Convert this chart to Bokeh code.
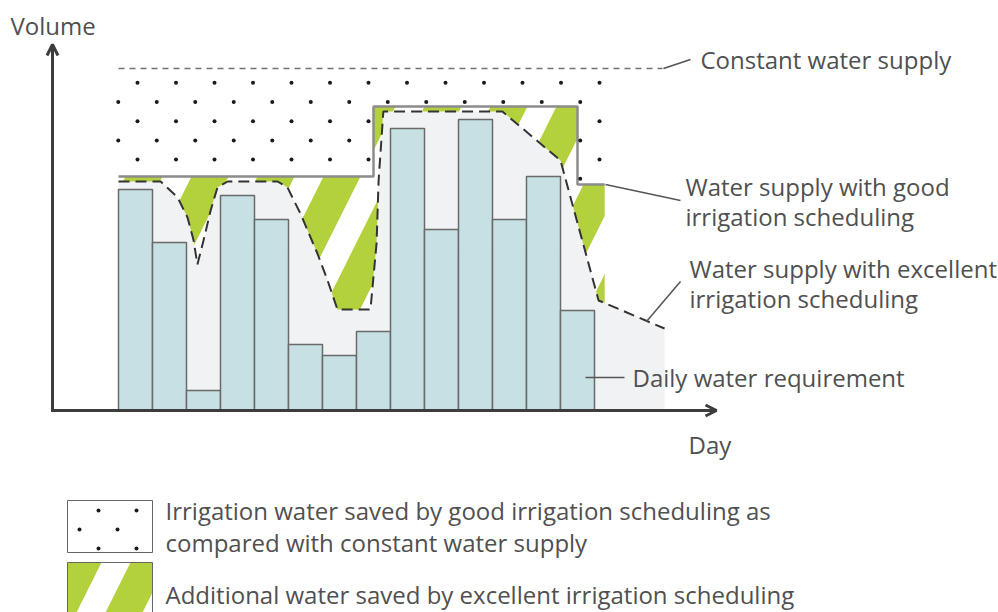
import numpy as np
from bokeh.plotting import figure
from bokeh.models import Range1d, Arrow, OpenHead, Label
from bokeh.embed import file_html
from bokeh.resources import INLINE

# ---------------- data (schematic) ----------------
days = list(range(1, 15))
requirement = [22.1, 16.8, 2.0, 21.5, 19.1, 6.6, 5.5, 7.9, 28.2, 18.1, 29.1, 19.1, 23.4, 10.0]

constant_x = [0.5, 16.5]
constant_supply = 34.2

good_x = [0.5, 8.0, 8.0, 14.0, 14.0, 14.8]
good_y = [23.4, 23.4, 30.4, 30.4, 22.6, 22.6]

excellent_x = [0.50, 1.74, 2.24, 2.53, 2.71, 2.82, 3.00, 3.21, 3.41, 3.71, 5.18, 5.47, 5.85,
               6.35, 6.65, 6.94, 7.91, 8.09, 8.15, 8.29, 11.79, 13.50, 14.62, 16.56]
excellent_y = [22.9, 22.9, 21.3, 19.3, 17.0, 14.6, 17.0, 20.0, 22.3, 22.9, 22.9, 22.3, 19.7,
               15.7, 13.0, 10.1, 10.1, 16.7, 23.0, 29.9, 29.9, 25.0, 11.0, 8.2]

labels_axis = ["Volume", "Day"]
# ---------------------------------------------------

W, H = 998, 612
OFF = 0                # page offset of the figure
X0, SX = 101.0, 34.0   # page px of day 0, px per day
Y0, SY = 410.0, 10.0   # page px of volume 0, px per unit


def px(x):
    return (x - X0) / SX


def py(y):
    return (Y0 - y) / SY


TEXT = "#505050"
AX = "#3d3d3d"
GREEN = "#b3d13d"
FONT = "Open Sans"
FS = "24px"

p = figure(width=W, height=H, output_backend="svg", toolbar_location=None,
           x_range=Range1d(px(OFF), px(OFF + W)), y_range=Range1d(py(OFF + H), py(OFF)),
           x_axis_type=None, y_axis_type=None, min_border=0,
           outline_line_color=None)
p.grid.visible = False
p.background_fill_color = "white"

HATCH = dict(hatch_pattern="/", hatch_color=GREEN, hatch_weight=33, hatch_scale=132)

# hatched region (below good supply line; lower part covered by grey area)
hx = [good_x[0]] + good_x + [good_x[-1]]
hy = [0] + good_y + [0]
p.patch(hx, hy, fill_color="white", line_color=None, **HATCH)

# grey area under excellent supply
gx = [excellent_x[0]] + excellent_x + [excellent_x[-1]]
gy = [0] + excellent_y + [0]
p.patch(gx, gy, fill_color="#f1f2f4", line_color=None)

# daily requirement bars
p.vbar(x=days, top=requirement, bottom=0, width=1.0, fill_color="#c6e0e3",
       line_color="#6a6a6a", line_width=1.5)

# supply lines
p.line(excellent_x, excellent_y, line_color="#333333", line_width=2, line_dash="11 6")
p.line(good_x, good_y, line_color="#8c8c8c", line_width=2.5)
p.line(constant_x, [constant_supply] * 2, line_color="#707070", line_width=1.5, line_dash="6 5")


# dot texture between constant supply and good supply
def good_level(x):
    lvl = good_y[0]
    for i in range(len(good_x) - 1):
        if good_y[i] == good_y[i + 1] and good_x[i] <= x <= good_x[i + 1]:
            lvl = good_y[i]
    return lvl


ddx, ddy = 38.5 / SX, 19.2 / SY
dxs, dys = [], []
for k in range(12):
    yy = constant_supply - 1.43 - ddy * k
    x = px(137) - (ddx / 2) * (k % 2)
    while x <= good_x[-1]:
        if x >= good_x[0] - 0.05 and yy >= good_level(x) + 0.3:
            dxs.append(x)
            dys.append(yy)
        x += ddx
p.scatter(dxs, dys, size=4, color="#1a1a1a", line_color=None)

# axes with arrow heads
p.add_layout(Arrow(end=OpenHead(size=11, line_width=3, line_color=AX),
                   x_start=px(52), y_start=py(411.5), x_end=px(52), y_end=py(44),
                   line_width=3, line_color=AX))
p.add_layout(Arrow(end=OpenHead(size=11, line_width=3, line_color=AX),
                   x_start=px(50.5), y_start=py(410), x_end=px(716), y_end=py(410),
                   line_width=3, line_color=AX))

# leader lines
lead = [((663, 68), (690, 59)), ((605, 184), (680, 200)),
        ((646, 321), (680, 281)), ((585, 377), (624, 377))]
p.segment([px(a[0]) for a, b in lead], [py(a[1]) for a, b in lead],
          [px(b[0]) for a, b in lead], [py(b[1]) for a, b in lead],
          line_color="#555555", line_width=1.5)


def lab(x, y, t):
    p.add_layout(Label(x=px(x), y=py(y), text=t, text_font=FONT, text_font_size=FS,
                       text_color=TEXT, text_baseline="middle", text_align="left"))


lab(10, 25, labels_axis[0])
lab(688, 444, labels_axis[1])
lab(700, 59, "Constant water supply")
lab(685, 186, "Water supply with good")
lab(685, 216, "irrigation scheduling")
lab(689, 268, "Water supply with excellent")
lab(689, 298, "irrigation scheduling")
lab(632, 377, "Daily water requirement")
lab(165, 510, "Irrigation water saved by good irrigation scheduling as")
lab(165, 542, "compared with constant water supply")
lab(165, 594, "Additional water saved by excellent irrigation scheduling")

# legend boxes
p.quad(left=px(67), right=px(152), top=py(500), bottom=py(552),
       fill_color="white", line_color="#666666", line_width=1)
lgx = [98, 136, 79, 117, 98, 136]
lgy = [510, 510, 529, 529, 548, 548]
p.scatter([px(v) for v in lgx], [py(v) for v in lgy], size=4, color="#1a1a1a", line_color=None)
p.quad(left=px(67), right=px(152), top=py(562), bottom=py(640),
       fill_color="white", line_color="#666666", line_width=1, **HATCH)

open("out.html", "w").write(file_html(p, INLINE))
